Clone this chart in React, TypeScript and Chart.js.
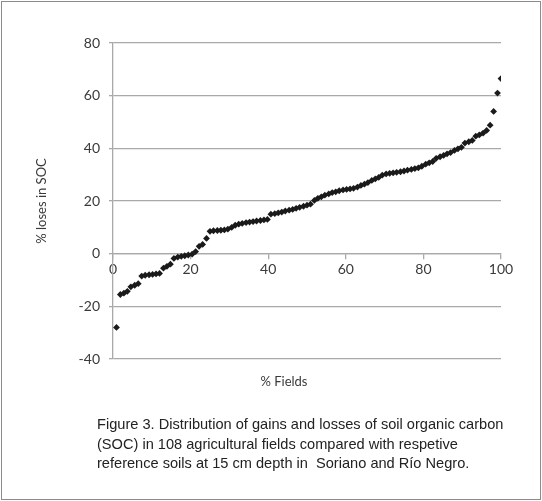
import React, { useEffect, useRef } from "react";
import { Chart, registerables } from "chart.js";

Chart.register(...registerables);

const fieldsPct: number[] = [
  0.9, 1.9, 2.8, 3.7, 4.6, 5.6, 6.5, 7.4, 8.3, 9.3, 10.2, 11.1, 12.0, 13.0, 13.9, 14.8,
  15.7, 16.7, 17.6, 18.5, 19.4, 20.4, 21.3, 22.2, 23.1, 24.1, 25.0, 25.9, 26.9, 27.8,
  28.7, 29.6, 30.6, 31.5, 32.4, 33.3, 34.3, 35.2, 36.1, 37.0, 38.0, 38.9, 39.8, 40.7,
  41.7, 42.6, 43.5, 44.4, 45.4, 46.3, 47.2, 48.1, 49.1, 50.0, 50.9, 51.9, 52.8, 53.7,
  54.6, 55.6, 56.5, 57.4, 58.3, 59.3, 60.2, 61.1, 62.0, 63.0, 63.9, 64.8, 65.7, 66.7,
  67.6, 68.5, 69.4, 70.4, 71.3, 72.2, 73.1, 74.1, 75.0, 75.9, 76.9, 77.8, 78.7, 79.6,
  80.6, 81.5, 82.4, 83.3, 84.3, 85.2, 86.1, 87.0, 88.0, 88.9, 89.8, 90.7, 91.7, 92.6,
  93.5, 94.4, 95.4, 96.3, 97.2, 98.1, 99.1, 100.0,
];

const socLoss: number[] = [
  -28, -15.5, -15, -14.3, -12.6, -12, -11.4, -8.5, -8.2, -8, -7.9, -7.7, -7.5, -5.5,
  -4.8, -4, -1.8, -1.3, -1, -0.8, -0.5, -0.2, 0.8, 2.8, 3.5, 5.8, 8.5, 8.7, 8.8, 8.9,
  9.0, 9.3, 10.0, 10.8, 11.2, 11.5, 11.8, 12.0, 12.2, 12.4, 12.6, 12.8, 13.0,
  15.0, 15.2, 15.5, 15.8, 16.2, 16.5, 16.8, 17.2, 17.6, 18.0, 18.4, 18.8, 20.2, 21.0,
  21.6, 22.2, 22.7, 23.2, 23.5, 23.9, 24.2, 24.4, 24.6, 24.8, 25.3, 25.9, 26.4, 27.0,
  27.8, 28.4, 29.0, 29.8, 30.3, 30.5, 30.7, 30.9, 31.1, 31.4, 31.7, 32.0, 32.3, 32.6,
  33.2, 34.0, 34.5, 35.0, 36.2, 36.8, 37.3, 37.9, 38.4, 39.2, 39.8, 40.4, 42.0, 42.5,
  43.0, 44.6, 45.1, 45.8, 46.8, 48.8, 54.0, 61.0, 66.5,
];

const xTitle = "% Fields";
const yTitle = "% loses in SOC";
const captionLines = [
  "Figure 3. Distribution of gains and losses of soil organic carbon",
  "(SOC) in 108 agricultural fields compared with respetive",
  "reference soils at 15 cm depth in  Soriano and Río Negro.",
];

const gridColor = "#a9a9a9";
const tickFont = { family: "Lato, 'Open Sans', sans-serif", size: 14 };

export default function App() {
  const canvasRef = useRef<HTMLCanvasElement | null>(null);

  useEffect(() => {
    document.body.style.margin = "0";
    const canvas = canvasRef.current;
    if (!canvas) return;
    const points = fieldsPct.map((x, i) => ({ x, y: socLoss[i] }));
    const chart = new Chart(canvas, {
      type: "scatter",
      data: {
        datasets: [
          {
            data: points,
            pointStyle: "rectRot",
            pointRadius: 3.4,
            backgroundColor: "#1a1a1a",
            borderColor: "#1a1a1a",
            borderWidth: 0,
          },
        ],
      },
      options: {
        animation: false,
        responsive: false,
        layout: { padding: { top: 43, right: 41, bottom: 142, left: 0 } },
        plugins: { legend: { display: false }, tooltip: { enabled: false } },
        scales: {
          x: {
            type: "linear",
            position: { y: 0 } as any,
            min: 0,
            max: 100,
            ticks: { stepSize: 20, color: "#3a3a3a", font: tickFont, padding: 2, maxRotation: 0 },
            grid: { drawOnChartArea: false, drawTicks: true, tickLength: 5, color: gridColor, lineWidth: 1.3 },
            border: { display: true, color: gridColor, width: 1.3 },
          },
          y: {
            type: "linear",
            position: "left",
            min: -40,
            max: 80,
            afterFit: (scale: any) => {
              scale.width = 113;
            },
            ticks: { stepSize: 20, color: "#3a3a3a", font: tickFont, padding: 9 },
            grid: { color: gridColor, lineWidth: 1.3, drawTicks: true, tickLength: 4 },
            border: { display: true, color: gridColor, width: 1.3 },
            title: {
              display: true,
              text: yTitle,
              color: "#3a3a3a",
              font: { family: "Lato, 'Open Sans', sans-serif", size: 13 },
              padding: { top: 34, bottom: 0 },
            },
          },
        },
      },
    });
    return () => chart.destroy();
  }, []);

  return (
    <div style={{ position: "relative", width: 542, height: 501 }}>
      <canvas ref={canvasRef} width={542} height={501} style={{ display: "block" }} />
      <div
        style={{
          position: "absolute",
          left: 1,
          top: 1,
          width: 538,
          height: 497,
          border: "1px solid #8c8c8c",
          pointerEvents: "none",
        }}
      />
      <div
        style={{
          position: "absolute",
          left: 0,
          width: 568,
          top: 373,
          textAlign: "center",
          fontFamily: "Lato, 'Open Sans', sans-serif",
          fontSize: 13,
          color: "#3a3a3a",
        }}
      >
        {xTitle}
      </div>
      <div
        style={{
          position: "absolute",
          left: 97,
          top: 415,
          fontFamily: "'Liberation Sans', Arial, sans-serif",
          fontSize: 14.6,
          lineHeight: "19.5px",
          color: "#222",
          whiteSpace: "pre",
        }}
      >
        {captionLines.map((l, i) => (
          <div key={i}>{l}</div>
        ))}
      </div>
    </div>
  );
}
